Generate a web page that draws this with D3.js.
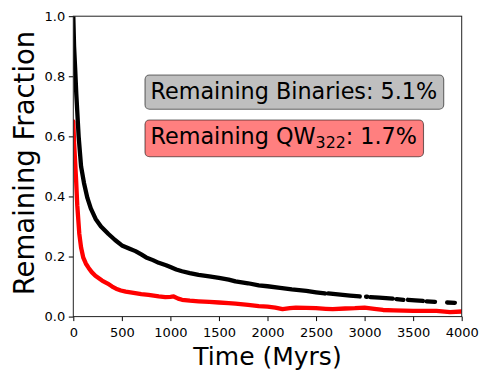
<!DOCTYPE html>
<html><head><meta charset="utf-8">
<script src="https://cdn.jsdelivr.net/npm/d3@7"></script>
<style>
body{margin:0;background:#fff}
svg{display:block;font-family:"DejaVu Sans",sans-serif}
</style>
</head><body><div id="chart"></div>
<script>
// ---- data ----
// black curve: remaining binaries; null marks a gap between plotted runs
const blackTime  = [0, 8, 20, 31, 55, 80, 110, 145, 180, 230, 285, 362, 430, 500, 580, 640, 700, 750, 820, 880, 955, 1000, 1060, 1120, 1200, 1290, 1400, 1500, 1600, 1670, 1800, 1910, 2000, 2130, 2250, 2400, 2500, 2590,
  null, 2625, 2750, 2850, 2950,
  null, 3015, 3027,
  null, 3060, 3150, 3290,
  null, 3330, 3400,
  null, 3447, 3520, 3600,
  null, 3640, 3725,
  null, 3850, 3930];
const blackValue = [1.0, 0.9, 0.82, 0.74, 0.6, 0.5, 0.445, 0.395, 0.36, 0.325, 0.3, 0.275, 0.255, 0.237, 0.226, 0.218, 0.207, 0.197, 0.188, 0.179, 0.171, 0.165, 0.157, 0.151, 0.145, 0.139, 0.134, 0.129, 0.123, 0.117, 0.111, 0.104, 0.101, 0.096, 0.091, 0.086, 0.081, 0.077,
  null, 0.077, 0.073, 0.07, 0.067,
  null, 0.066, 0.066,
  null, 0.065, 0.063, 0.06,
  null, 0.058, 0.056,
  null, 0.056, 0.054, 0.052,
  null, 0.051, 0.049,
  null, 0.047, 0.046];
// red curve: remaining QW322
const redTime  = [0, 8, 18, 28, 41, 62, 80, 103, 130, 158, 190, 227, 296, 354, 400, 440, 490, 540, 637, 700, 775, 880, 947, 1000, 1034, 1080, 1120, 1200, 1290, 1400, 1500, 1600, 1670, 1800, 1910, 2000, 2080, 2155, 2230, 2293, 2400, 2500, 2600, 2672, 2800, 2900, 3000, 3100, 3190, 3300, 3500, 3600, 3740, 3880, 4000];
const redValue = [0.65, 0.58, 0.52, 0.46, 0.37, 0.275, 0.23, 0.196, 0.176, 0.162, 0.148, 0.136, 0.12, 0.11, 0.1, 0.093, 0.087, 0.083, 0.078, 0.075, 0.072, 0.067, 0.065, 0.066, 0.067, 0.06, 0.056, 0.053, 0.051, 0.049, 0.047, 0.045, 0.043, 0.039, 0.035, 0.033, 0.03, 0.025, 0.028, 0.03, 0.029, 0.028, 0.026, 0.025, 0.027, 0.028, 0.03, 0.026, 0.022, 0.021, 0.019, 0.019, 0.019, 0.015, 0.017];
const xTickValues = [0, 500, 1000, 1500, 2000, 2500, 3000, 3500, 4000];
const yTickValues = [0, 0.2, 0.4, 0.6, 0.8, 1.0];
const xTitle = "Time (Myrs)";
const yTitle = "Remaining Fraction";
const binariesText = "Remaining Binaries: 5.1%";
const qwParts = ["Remaining QW", "322", ": 1.7%"];

// ---- layout ----
const W = 490, H = 380;
const mLeft = 73.3, mRight = 461.7, mTop = 16.2, mBottom = 316.6;
const svg = d3.select("#chart").append("svg").attr("width", W).attr("height", H);

const x = d3.scaleLinear().domain([0, 4000]).range([mLeft, mRight]);
const y = d3.scaleLinear().domain([0, 1]).range([mBottom, mTop]);

svg.append("clipPath").attr("id", "clip").append("rect")
  .attr("x", mLeft).attr("y", mTop).attr("width", mRight - mLeft).attr("height", mBottom - mTop);

const line = d3.line()
  .defined(d => d[0] !== null && d[1] !== null)
  .x(d => x(d[0])).y(d => y(d[1]));

const plot = svg.append("g").attr("clip-path", "url(#clip)");
plot.append("path").datum(d3.zip(redTime, redValue))
  .attr("d", line).attr("fill", "none").attr("stroke", "#ff0000")
  .attr("stroke-width", 4.3).attr("stroke-linejoin", "round").attr("stroke-linecap", "round");
plot.append("path").datum(d3.zip(blackTime, blackValue))
  .attr("d", line).attr("fill", "none").attr("stroke", "#000")
  .attr("stroke-width", 4.3).attr("stroke-linejoin", "round").attr("stroke-linecap", "round");

// axes
const xAxis = svg.append("g").attr("transform", `translate(0,${mBottom})`)
  .call(d3.axisBottom(x).tickValues(xTickValues).tickFormat(d3.format("d")).tickSize(4.5).tickPadding(6.3).tickSizeOuter(0));
const yAxis = svg.append("g").attr("transform", `translate(${mLeft},0)`)
  .call(d3.axisLeft(y).tickValues(yTickValues).tickFormat(d3.format(".1f")).tickSize(4.5).tickPadding(3.6).tickSizeOuter(0));
[xAxis, yAxis].forEach(a => {
  a.selectAll("text").attr("font-size", 13).attr("font-family", "DejaVu Sans").attr("fill", "#000");
  a.selectAll("line").attr("stroke", "#000").attr("stroke-width", 1);
  a.select(".domain").remove();
});

// frame
svg.append("rect").attr("x", mLeft).attr("y", mTop).attr("width", mRight - mLeft).attr("height", mBottom - mTop)
  .attr("fill", "none").attr("stroke", "#222").attr("stroke-width", 1);

// titles
svg.append("text").attr("x", (mLeft + mRight) / 2).attr("y", 365).attr("text-anchor", "middle")
  .attr("font-size", 25).attr("fill", "#000").text(xTitle);
svg.append("text").attr("transform", `translate(34,163) rotate(-90)`)
  .attr("text-anchor", "middle").attr("font-size", 27.5).attr("fill", "#000").text(yTitle);

// annotation boxes
function box(boxTop, boxH, baseline, fill, build) {
  const g = svg.append("g");
  const rect = g.append("rect");
  const t = g.append("text").attr("x", 150.5).attr("y", baseline).attr("font-size", 22.3).attr("fill", "#000");
  build(t);
  const bb = t.node().getBBox();
  rect.attr("x", 145).attr("y", boxTop)
    .attr("width", bb.x + bb.width + 6.5 - 145)
    .attr("height", boxH)
    .attr("rx", 4.5).attr("ry", 4.5)
    .attr("fill", fill).attr("stroke", "rgba(0,0,0,0.55)").attr("stroke-width", 1.1);
}
box(75, 34.3, 99.3, "rgba(128,128,128,0.5)", t => t.text(binariesText));
box(120, 36.7, 144.3, "rgba(255,0,0,0.5)", t => {
  t.append("tspan").text(qwParts[0]);
  t.append("tspan").attr("font-size", 15.8).attr("dy", 4).text(qwParts[1]);
  t.append("tspan").attr("dy", -4).text(qwParts[2]);
});
</script>
</body></html>
